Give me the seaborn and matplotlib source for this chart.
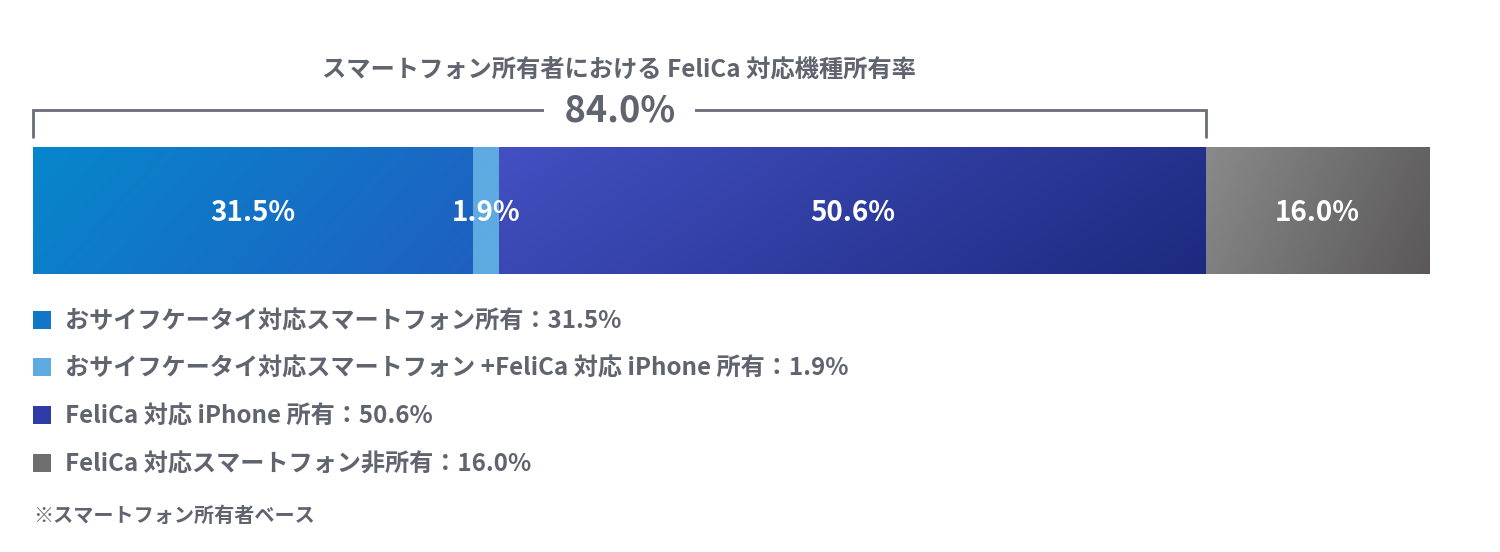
import numpy as np
import pandas as pd
import matplotlib
matplotlib.use("Agg")
import matplotlib.pyplot as plt
import matplotlib.transforms as mtransforms
from matplotlib.colors import to_rgb
from matplotlib.patches import Rectangle
import seaborn as sns

sns.set_style("white")
plt.rcParams['font.family'] = ['Noto Sans CJK JP', 'DejaVu Sans']

# data
segments = ["おサイフケータイ対応スマートフォン所有",
            "おサイフケータイ対応スマートフォン +FeliCa 対応 iPhone 所有",
            "FeliCa 対応 iPhone 所有",
            "FeliCa 対応スマートフォン非所有"]
shares = [31.5, 1.9, 50.6, 16.0]
felica_total = 84.0
title = "スマートフォン所有者における FeliCa 対応機種所有率"
note = "※スマートフォン所有者ベース"

# gradient colours (left, right) per segment
grad_left = ["#0786cd", "#5eaae1", "#4250c2", "#8a8a8a"]
grad_right = ["#1f60c0", "#5eaae1", "#1d2a7f", "#5a5858"]
legend_colors = ["#1176c8", "#5eaae1", "#2f3ca6", "#6e6e6e"]
text_gray = "#60646e"

W, H = 1500, 552
fig = plt.figure(figsize=(15, 5.52), dpi=100)

# bar axes
bx0, bx1, by0, by1 = 33, 1429, 147, 274
ax = fig.add_axes([bx0 / W, 1 - by1 / H, (bx1 - bx0) / W, (by1 - by0) / H])

df = pd.DataFrame({"segment": segments, "share": shares})
df["cum"] = df["share"].cumsum()
df["start"] = df["cum"] - df["share"]

# stacked bar: draw cumulative totals from the longest to the shortest
for i in reversed(range(len(df))):
    sns.barplot(x=[df["cum"][i]], y=["all"], color=legend_colors[i],
                width=1, ax=ax, orient="h", saturation=1, linewidth=0)

# gradient fill on top of each segment
ny, nx = 40, 200
u = np.linspace(0, 1, nx)[None, :]
v = np.linspace(0, 1, ny)[:, None]
t = np.clip((u * 0.8 + v * 0.2), 0, 1)
for i, row in df.iterrows():
    c0 = np.array(to_rgb(grad_left[i]))
    c1 = np.array(to_rgb(grad_right[i]))
    img = c0[None, None, :] * (1 - t[..., None]) + c1[None, None, :] * t[..., None]
    ax.imshow(img, extent=[row["start"], row["cum"], 0.5, -0.5],
              aspect="auto", interpolation="bilinear", zorder=3)
    ax.text((row["start"] + row["cum"]) / 2, 0.02, f"{row['share']:.1f}%",
            ha="center", va="center", color="white", fontsize=20,
            fontweight="bold", zorder=5)

ax.set_xlim(0, 100)
ax.set_ylim(0.5, -0.5)
ax.axis("off")

# overlay axes in pixel coordinates for annotations
ov = fig.add_axes([0, 0, 1, 1])
ov.set_xlim(0, W)
ov.set_ylim(H, 0)
ov.axis("off")

blend = mtransforms.blended_transform_factory(ax.transData, ov.transData)

ov.text(felica_total / 2, 71, title, transform=blend,
        ha="center", va="center", fontsize=17.5, fontweight="bold", color=text_gray)

# bracket spanning the FeliCa-compatible share
ov.plot([0, 0, felica_total, felica_total], [137, 110, 110, 137],
        color="#6a6d77", lw=2, transform=blend, solid_joinstyle="miter")
ov.text(felica_total / 2, 111, f"  {felica_total:.1f}%  ", transform=blend,
        ha="center", va="center", fontsize=26, fontweight="bold", color=text_gray,
        bbox=dict(boxstyle="square,pad=0.1", fc="white", ec="none"), zorder=5)

# legend
rows_y = [320, 367, 415, 463]
for i, (lab, val) in enumerate(zip(segments, shares)):
    ov.add_patch(Rectangle((33, rows_y[i] - 9), 18, 18, fc=legend_colors[i], ec="none"))
    ov.text(65, rows_y[i] + 2, f"{lab}：{val:.1f}%", ha="left", va="center",
            fontsize=17.4, fontweight="bold", color=text_gray)

ov.text(33, 515, note, ha="left", va="center", fontsize=14.5,
        fontweight="bold", color=text_gray)

fig.savefig("out.png", dpi=100)
